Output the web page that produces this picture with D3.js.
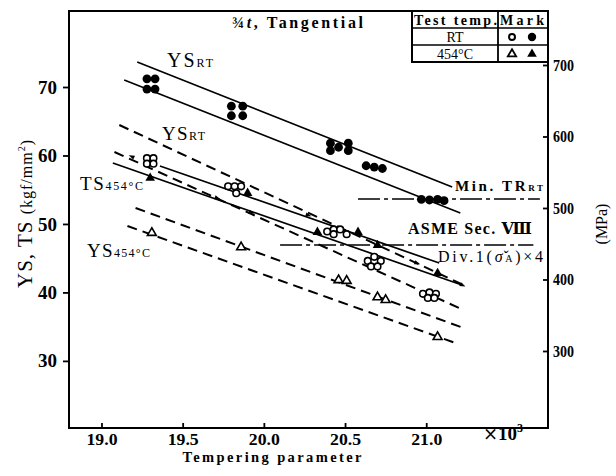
<!DOCTYPE html>
<html><head><meta charset="utf-8">
<script src="https://cdn.jsdelivr.net/npm/d3@7"></script>
<style>
html,body{margin:0;padding:0;background:#fff;}
svg{display:block;font-family:"Liberation Serif","DejaVu Serif",serif;}
</style></head><body>
<svg id="chart" width="616" height="476"></svg>
<script>
// Axis ticks
const xTicks = [19.0, 19.5, 20.0, 20.5, 21.0];
const yTicks = [30, 40, 50, 60, 70];
const mpaTicks = [300, 400, 500, 600, 700];

// Tensile strength at room temperature (filled circles), [parameter ×10³, kgf/mm²]
const tsRT = [
  [19.28,71.2],[19.33,71.2],[19.28,69.7],[19.33,69.7],
  [19.80,67.2],[19.87,67.2],[19.80,65.8],[19.87,65.8],
  [20.41,61.8],[20.41,60.7],[20.46,61.2],[20.52,61.8],[20.52,60.7],
  [20.63,58.5],[20.68,58.3],[20.73,58.1],
  [20.97,53.6],[21.02,53.5],[21.07,53.6],[21.11,53.4]
];
// Yield strength at room temperature (open circles)
const ysRT = [
  [19.28,59.6],[19.32,59.6],[19.28,58.8],[19.32,58.8],
  [19.78,55.5],[19.82,55.5],[19.86,55.5],[19.83,54.5],
  [20.39,48.9],[20.43,49.2],[20.47,49.2],[20.51,48.5],[20.43,48.5],
  [20.64,44.6],[20.68,45.2],[20.72,44.6],[20.66,43.8],[20.70,43.8],
  [20.98,39.8],[21.02,40.0],[21.06,39.8],[21.01,39.2],[21.05,39.2]
];
// Tensile strength at 454 °C (filled triangles)
const ts454 = [[19.30,56.7],[19.90,54.5],[20.33,48.8],[20.58,48.8],[20.70,46.9],[21.07,42.8]];
// Yield strength at 454 °C (open triangles)
const ys454 = [[19.31,48.7],[19.86,46.6],[20.46,41.8],[20.51,41.7],[20.70,39.3],[20.75,38.9],[21.07,33.5]];

// Scatter band limits: [x1, y1, x2, y2]
const tsRTBand  = [[19.22,73.65,21.16,55.40],[19.14,71.02,21.21,51.60]];
const ysRTBand  = [[19.11,64.45,21.23,41.08],[19.08,60.51,21.23,37.43]];
const ts454Band = [[19.36,58.46,21.08,44.30],[19.07,58.90,21.22,41.08]];
const ys454Band = [[19.21,52.33,21.23,34.80],[19.16,49.70,21.18,32.61]];

// Small arrowheads printed along the band lines: [x, y, slope in px, direction]
const arrowMarks = [
  [19.19,59.8,0.45,-1],[19.71,53.8,0.35,1],[19.92,51.7,0.35,1],
  [20.27,51.3,0.35,1],[20.94,44.3,0.35,1],[21.22,41.1,0.46,1]
];

// Reference levels: [xStart, xEnd, kgf/mm²]
const minTR = [20.58, 21.70, 53.65];
const asme  = [20.10, 21.66, 46.93];

const svg = d3.select("#chart");
const L = 69, R = 548, T = 11, B = 428;

const x = d3.scaleLinear().domain([18.8, 21.75]).range([L, R]);
const y = d3.scaleLinear().domain([20.2, 81.1]).range([B, T]);
const yR = d3.scaleLinear().domain([192.3, 775.5]).range([B, T]);

// Frame
const frame = svg.append("g").attr("stroke", "#000").attr("stroke-width", 2).attr("fill", "none");
frame.append("line").attr("x1", L).attr("x2", L).attr("y1", T).attr("y2", B + 1);
frame.append("line").attr("x1", L - 1).attr("x2", R + 1).attr("y1", B).attr("y2", B);
frame.append("line").attr("x1", R).attr("x2", R).attr("y1", T).attr("y2", B + 1);
frame.append("line").attr("x1", L - 1).attr("x2", R + 1).attr("y1", T).attr("y2", T);

function styleAxis(g) {
  g.select(".domain").remove();
  g.selectAll(".tick line").attr("stroke", "#000").attr("stroke-width", 1.8);
  g.selectAll(".tick text").attr("fill", "#000").style("font-weight", "bold")
    .style("font-family", '"Liberation Serif","DejaVu Serif",serif');
}

svg.append("g").attr("transform", `translate(${L},0)`)
  .call(d3.axisLeft(y).tickValues(yTicks).tickSize(6).tickPadding(6).tickFormat(d3.format("d")))
  .call(styleAxis)
  .selectAll("text").style("font-size", "19px");

svg.append("g").attr("transform", `translate(0,${B})`)
  .call(d3.axisBottom(x).tickValues(xTicks).tickSize(-5).tickPadding(6).tickFormat(d3.format(".1f")))
  .call(styleAxis)
  .selectAll("text").style("font-size", "16px").attr("textLength", 31).attr("lengthAdjust", "spacingAndGlyphs");

svg.append("g").attr("transform", `translate(${R},0)`)
  .call(d3.axisRight(yR).tickValues(mpaTicks).tickSize(-5).tickPadding(5).tickFormat(d3.format("d")))
  .call(styleAxis)
  .selectAll("text").style("font-size", "17px").attr("textLength", 21).attr("lengthAdjust", "spacingAndGlyphs");

// Axis titles
const yt = svg.append("text").attr("transform", "translate(32,214) rotate(-90)")
  .attr("text-anchor", "middle").attr("textLength", 148);
yt.append("tspan").style("font-size", "21px").text("YS, TS ");
yt.append("tspan").style("font-size", "16px").text("(kgf/mm");
yt.append("tspan").style("font-size", "10px").attr("dy", -7).text("2");
yt.append("tspan").style("font-size", "16px").attr("dy", 7).text(")");

svg.append("text").attr("transform", "translate(607,224) rotate(-90)")
  .attr("text-anchor", "middle").style("font-size", "16px").text("(MPa)");

svg.append("text").attr("x", 272).attr("y", 462).attr("text-anchor", "middle")
  .style("font-size", "14.5px").style("font-weight", "bold").attr("textLength", 179).text("Tempering parameter");

const e3 = svg.append("text").attr("x", 483).attr("y", 440).style("font-size", "19px");
e3.append("tspan").style("font-family", '"DejaVu Serif",serif').style("font-size", "18px").text("×");
e3.append("tspan").style("font-weight", "bold").text("10");
e3.append("tspan").style("font-size", "12px").style("font-weight", "bold").attr("dy", -8).text("3");

// Scatter bands
const lineG = svg.append("g").attr("stroke", "#000").attr("fill", "none");
function band(rows, dashed) {
  lineG.selectAll(null).data(rows).join("line")
    .attr("x1", d => x(d[0])).attr("y1", d => y(d[1]))
    .attr("x2", d => x(d[2])).attr("y2", d => y(d[3]))
    .attr("stroke-width", dashed ? 2 : 1.7)
    .attr("stroke-dasharray", dashed ? "10,6" : null);
}
band(tsRTBand, false);
band(ts454Band, false);
band(ysRTBand, true);
band(ys454Band, true);

// Reference levels
[minTR, asme].forEach(r => {
  lineG.append("line")
    .attr("x1", x(r[0])).attr("x2", x(r[1]))
    .attr("y1", y(r[2])).attr("y2", y(r[2]))
    .attr("stroke-width", 1.6).attr("stroke-dasharray", "22,4,4,4");
});

// Arrowheads along the lines
const arrowSym = d3.symbol().type(d3.symbolTriangle).size(12);
svg.append("g").selectAll("path").data(arrowMarks).join("path")
  .attr("transform", d => {
    const ang = Math.atan(d[2]) * 180 / Math.PI + (d[3] > 0 ? 90 : -90);
    return `translate(${x(d[0])},${y(d[1])}) rotate(${ang}) scale(0.8,1.3)`;
  })
  .attr("d", arrowSym).attr("fill", "#000");

// Markers
const mk = svg.append("g");
mk.selectAll(null).data(tsRT).join("circle")
  .attr("cx", d => x(d[0])).attr("cy", d => y(d[1])).attr("r", 4.4).attr("fill", "#000");
mk.selectAll(null).data(ysRT).join("circle")
  .attr("cx", d => x(d[0])).attr("cy", d => y(d[1])).attr("r", 3.3)
  .attr("fill", "#fff").attr("stroke", "#000").attr("stroke-width", 1.6);
const tri = d3.symbol().type(d3.symbolTriangle).size(40);
mk.selectAll(null).data(ts454).join("path")
  .attr("transform", d => `translate(${x(d[0])},${y(d[1])})`).attr("d", tri).attr("fill", "#000");
mk.selectAll(null).data(ys454).join("path")
  .attr("transform", d => `translate(${x(d[0])},${y(d[1])})`).attr("d", d3.symbol().type(d3.symbolTriangle).size(34))
  .attr("fill", "#fff").attr("stroke", "#000").attr("stroke-width", 1.6);

// Labels
function label(px, py, big, small, size, width) {
  const t = svg.append("text").attr("x", px).attr("y", py).style("font-size", size + "px");
  if (width) t.attr("textLength", width);
  t.append("tspan").text(big);
  t.append("tspan").style("font-size", Math.round(size * 0.62) + "px").text(small);
  return t;
}
label(167, 67, "YS", "RT", 20, 46);
label(162, 140, "YS", "RT", 19, 43);
label(80, 190, "TS", "454°C", 19, 63);
label(87, 257, "YS", "454°C", 19, 63);
label(455, 191, "Min. TR", "RT", 15, 88).style("font-weight", "bold");
svg.append("text").attr("x", 408).attr("y", 234).style("font-size", "16px").style("font-weight", "bold")
  .attr("textLength", 124).text("ASME Sec. Ⅷ");
const dv = svg.append("text").attr("x", 438).attr("y", 262).style("font-size", "16px").attr("textLength", 105);
dv.append("tspan").text("Div.1(");
dv.append("tspan").style("font-style", "italic").text("σ̌");
dv.append("tspan").style("font-size", "10px").text("A");
dv.append("tspan").text(")×4");

// Heading
const hd = svg.append("text").attr("x", 232).attr("y", 28).style("font-size", "16px").style("font-weight", "bold").attr("textLength", 131);
hd.append("tspan").text("¾");
hd.append("tspan").style("font-style", "italic").text("t");
hd.append("tspan").text(", Tangential");

// Legend table
const lg = svg.append("g");
const lx0 = 412, lx1 = 498, lx2 = 548, ly = [11, 28, 45, 62];
lg.append("rect").attr("x", lx0).attr("y", ly[0]).attr("width", lx2 - lx0).attr("height", ly[3] - ly[0])
  .attr("fill", "#fff").attr("stroke", "#000").attr("stroke-width", 2);
lg.append("line").attr("x1", lx1).attr("x2", lx1).attr("y1", ly[0]).attr("y2", ly[3]).attr("stroke", "#000").attr("stroke-width", 1.8);
[ly[1], ly[2]].forEach(v => lg.append("line").attr("x1", lx0).attr("x2", lx2).attr("y1", v).attr("y2", v).attr("stroke", "#000").attr("stroke-width", 1.5));
lg.append("text").attr("x", 414).attr("y", 25).style("font-size", "14px").style("font-weight", "bold").attr("textLength", 83).text("Test temp.");
lg.append("text").attr("x", 500).attr("y", 25).style("font-size", "14px").style("font-weight", "bold").attr("textLength", 44).text("Mark");
lg.append("text").attr("x", 455).attr("y", 42).attr("text-anchor", "middle").style("font-size", "14px").text("RT");
lg.append("text").attr("x", 455).attr("y", 59).attr("text-anchor", "middle").style("font-size", "14px").text("454°C");
lg.append("circle").attr("cx", 512).attr("cy", 37).attr("r", 3).attr("fill", "#fff").attr("stroke", "#000").attr("stroke-width", 2);
lg.append("circle").attr("cx", 532).attr("cy", 37).attr("r", 4.2).attr("fill", "#000");
lg.append("path").attr("transform", "translate(512,54)").attr("d", d3.symbol().type(d3.symbolTriangle).size(30))
  .attr("fill", "#fff").attr("stroke", "#000").attr("stroke-width", 1.8);
lg.append("path").attr("transform", "translate(532,54)").attr("d", d3.symbol().type(d3.symbolTriangle).size(40)).attr("fill", "#000");
</script>
</body></html>
